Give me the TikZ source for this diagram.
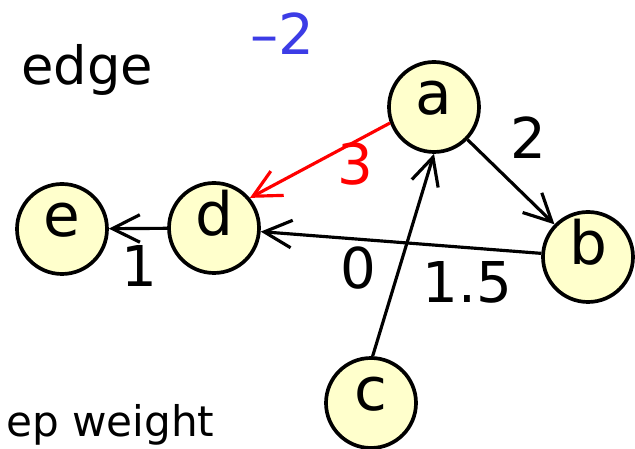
\documentclass[tikz,border=0pt]{standalone}
\usepackage{fontspec}
\setmainfont{DejaVu Sans}
\usetikzlibrary{arrows.meta}
\definecolor{Cream}{HTML}{FFFFCC}
\definecolor{Scarlet}{HTML}{FF0000}
\definecolor{Cobalt}{HTML}{3C3CE6}

\begin{document}
\begin{tikzpicture}[>={Straight Barb[length=5.5mm,width=5.5mm]},
    vertex/.style={circle,draw,line width=2.1pt,fill=Cream,minimum size=1.8cm,inner sep=0pt,
      font=\fontsize{34}{34}\selectfont,text height=22pt,text depth=14pt},
    link/.style={->,line width=1.8pt},
    weight/.style={font=\fontsize{32}{32}\selectfont,inner sep=0pt}]
  \useasboundingbox (0,0) rectangle (12.7,8.98);
  \node[anchor=base west,font=\fontsize{30}{30}\selectfont] (title) at (0.30,7.28) {edge};
  \node[anchor=base west,font=\fontsize{24}{24}\selectfont] (caption) at (0,0.24) {ep weight};
  \node[weight,text=Cobalt] (delta) at (5.64,8.30) {\textendash2};
  \node[vertex] (a) at (8.68,6.84) {a};
  \node[vertex] (b) at (11.76,3.84) {b};
  \node[vertex] (c) at (7.42,0.92) {c};
  \node[vertex] (d) at (4.28,4.42) {d};
  \node[vertex] (e) at (1.24,4.40) {e};
  \draw[link] (a) -- node[weight,pos=.25,xshift=.78cm,yshift=.46cm] (wab) {2} (b);
  \draw[link,draw=Scarlet] (a.200) -- node[weight,text=Scarlet,pos=.25,yshift=-.44cm] (wad) {3} (d.40);
  \draw[link] (c.88) -- node[weight,pos=.437,xshift=-.82cm] (wca) {0} (a.270);
  \draw[link] (b) -- node[weight,pos=.264,yshift=-.70cm] (wbd) {1.5} (d);
  \draw[link] (d) -- node[weight,pos=.47,yshift=-.75cm] (wde) {1} (e);
\end{tikzpicture}
\end{document}
